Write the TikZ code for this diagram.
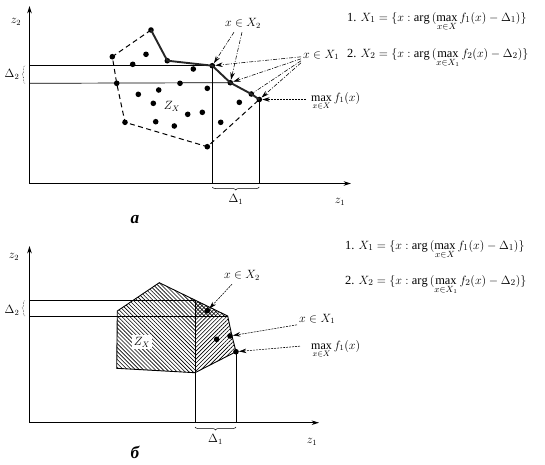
\documentclass[tikz,border=0pt]{standalone}
\usepackage{amsmath,amssymb}
\usepackage{fontspec}
\setmainfont{Liberation Serif}
\usepackage{tikz}
\usetikzlibrary{arrows.meta,positioning,calc,decorations.pathreplacing,patterns.meta}
\tikzset{
  >={Stealth[length=2.6mm,width=1.6mm]},
  axis/.style={->,line width=1pt},
  guide/.style={line width=0.7pt},
  dot/.style={circle,fill=black,inner sep=0pt,minimum size=5.6pt},
  bord/.style={dash pattern=on 5pt off 3.5pt,line width=1pt},
  front/.style={line width=1.9pt,draw=black!85},
  lbl/.style={inner sep=1pt,font=\large},
  ptr/.style={->,line width=0.55pt,dash pattern=on 4pt off 1.5pt on 1pt off 1.5pt},
  ptrd/.style={->,line width=0.55pt,dash pattern=on 2pt off 1pt},
  brc/.style={decorate,decoration={brace,amplitude=3pt},line width=0.5pt},
  rule/.style={anchor=base west,inner sep=0pt,font=\fontsize{12.4}{15}\selectfont},
  hatchL/.style={pattern={Lines[angle=-45,distance=2.8pt,line width=0.6pt]}},
  hatchR/.style={pattern={Lines[angle=45,distance=2.8pt,line width=0.6pt]}},
}

\begin{document}
\begin{tikzpicture}[x=1pt,y=-1pt]
  \useasboundingbox (0,0) rectangle (545,464);

  % ---- panel a
  \coordinate (Oa) at (29.5,183.5);
  \draw[axis] (Oa) -- (29.5,6) coordinate (Ya);
  \draw[axis] (Oa) -- (351,183.5) coordinate (Xa);
  \node[lbl] (z2a) at (16,22) {$z_2$};
  \node[lbl] (z1a) at (340,202) {$z_1$};

  \foreach \n/\p in {1/{151,30},2/{112.3,56.7},3/{146,54.3},4/{167.3,60.7},5/{132.7,64.3},
      6/{193.3,69},7/{212.3,65.7},8/{116.7,83.3},9/{180,83.3},10/{207.3,88.3},
      11/{230.3,82.7},12/{251.3,94},13/{259.3,99.5},14/{239.3,102.3},15/{138.3,94.3},
      16/{158.7,90},17/{153.3,103.3},18/{187.7,114.3},19/{202.3,112.3},20/{125,122.3},
      21/{155.7,121.7},22/{174.3,126},23/{220.7,122.3},24/{207.3,146.7}}
    \node[dot] (a\n) at (\p) {};

  \draw[guide] (29.5,65.7) -- (a7.center);
  \draw[guide] (29.5,83.3) -- (a11.center);
  \draw[guide] (a7.center) -- (a7.center |- Oa);
  \draw[guide] (a13.center) -- (a13.center |- Oa);
  \draw[bord] (a1.center) -- (a2.center) -- (a8.center) -- (a20.center) -- (a24.center) -- (a13.center);
  \draw[front] (a1.center) -- (a4.center) -- (a7.center) -- (a11.center) -- (a12.center) -- (a13.center);

  \node[lbl] (ZXa) at (172,106) {$Z_X$};
  \draw[brc] (259.3,187) -- node[below=6pt,lbl] (D1a) {$\Delta_1$} (212.3,187);
  \draw[brc,densely dotted] (25,83.3) -- (25,65.7);
  \node[lbl] (D2a) at (12,74) {$\Delta_2$};
  \node[lbl,font=\LARGE\bfseries\itshape] (ta) at (135,220) {a};

  \node[lbl] (lX2a) at (243,23) {$x\in X_2$};
  \draw[ptr] ($(lX2a.south)+(-9,3)$) -- (a7);
  \draw[ptr] ($(lX2a.south)+(-1,3)$) -- (a11);
  \node[lbl,anchor=base west] (lX1a) at (302,58) {$x\in X_1$};
  \draw[ptr] ($(lX1a.west)+(-1,2)$) -- (a7);
  \draw[ptr] ($(lX1a.west)+(-1,4)$) -- (a11);
  \draw[ptr,-] ($(lX1a.west)+(-1,6)$) -- (a12);
  \draw[ptr] ($(lX1a.west)+(-1,8)$) -- (a13);
  \node[lbl,anchor=base west] (lmaxa) at (310,101) {$\max\limits_{x\in X} f_1(x)$};
  \draw[ptrd] (lmaxa.west |- a13) ++(-4,0) coordinate (ma) -- (a13);

  \node[rule] (r1a) at (347,21) {1. $X_1 = \{x : \arg\,(\max\limits_{x\in X} f_1(x) - \Delta_1)\}$};
  \node[rule] (r2a) at (347,57) {2. $X_2 = \{x : \arg\,(\max\limits_{x\in X_1} f_2(x) - \Delta_2)\}$};

  % ---- panel b
  \coordinate (Ob) at (29.5,422.7);
  \draw[axis] (Ob) -- (29.5,246) coordinate (Yb);
  \draw[axis] (Ob) -- (319,422.7) coordinate (Xb);
  \node[lbl] (z2b) at (14,257) {$z_2$};
  \node[lbl] (z1b) at (312,442) {$z_1$};

  \coordinate (b1) at (159.3,282.7);
  \coordinate (b2) at (227.7,316);
  \coordinate (b3) at (231.5,334);
  \coordinate (b4) at (236,351.7);
  \coordinate (b5) at (195,372.7);
  \coordinate (b6) at (116.7,368.3);
  \coordinate (b7) at (117.3,311);
  \coordinate (c1) at (195,300.1);
  \begin{scope}
    \clip (b1) -- (b2) -- (b3) -- (b4) -- (b5) -- (b6) -- (b7) -- cycle;
    \fill[hatchL] (100,270) rectangle (195,380);
    \fill[hatchR] (195,270) rectangle (245,380);
    \fill[hatchL] (195,270) rectangle (245,316);
  \end{scope}
  \draw[line width=0.9pt] (b1) -- (b2) -- (b3) -- (b4) -- (b5) -- (b6) -- (b7) -- cycle;
  \draw[guide] (29.5,300.1) -- (c1);
  \draw[guide] (29.5,316) -- (b2);
  \draw[guide] (c1) -- (c1 |- Ob);
  \draw[guide] (b4) -- (b4 |- Ob);

  \node[dot] (d1) at (207.3,310.7) {};
  \node[dot] (d2) at (216.7,339.3) {};
  \node[dot] (d3) at (230,336) {};
  \node[dot] (d4) at (b4) {};

  \node[lbl,fill=white,inner sep=2pt] (ZXb) at (142,342) {$Z_X$};
  \draw[brc] (236,427) -- node[below=6pt,lbl] (D1b) {$\Delta_1$} (195,427);
  \draw[brc,densely dotted] (25,316) -- (25,300.1);
  \node[lbl] (D2b) at (12,310) {$\Delta_2$};
  \node[lbl,font=\LARGE\bfseries\itshape] (tb) at (135,452) {б};

  \node[lbl] (lX2b) at (242,275) {$x\in X_2$};
  \draw[ptrd] ($(lX2b.south)+(-10,3)$) -- (d1);
  \node[lbl,anchor=base west] (lX1b) at (298,322) {$x\in X_1$};
  \draw[ptrd] ($(lX1b.west)+(-1,6)$) -- (d3);
  \node[lbl,anchor=base west] (lmaxb) at (310,349) {$\max\limits_{x\in X} f_1(x)$};
  \draw[ptrd] ($(lmaxb.west)+(-10,-3)$) -- (d4);

  \node[rule] (r1b) at (345,249) {1. $X_1 = \{x : \arg\,(\max\limits_{x\in X} f_1(x) - \Delta_1)\}$};
  \node[rule] (r2b) at (345,284) {2. $X_2 = \{x : \arg\,(\max\limits_{x\in X_1} f_2(x) - \Delta_2)\}$};
\end{tikzpicture}
\end{document}
